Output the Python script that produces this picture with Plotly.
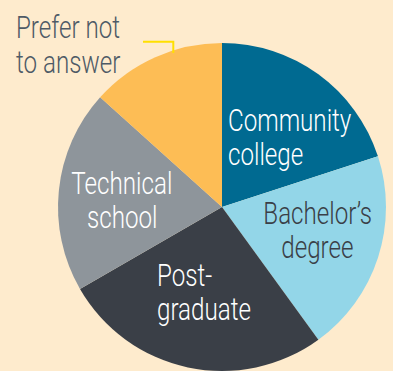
import plotly.graph_objects as go

W, H = 393, 371

categories = ["Community college", "Bachelor’s degree", "Post-graduate",
              "Technical school", "Prefer not to answer"]
values = [3, 3, 4, 3, 2]
colors = ["#006A91", "#93D6E8", "#3A3F47", "#8E959B", "#FDBD55"]

# label lines: (text, x_px, baseline_px, anchor, color)
label_lines = [
    ("Community", 227, 130.7, "left", "#FFFFFF"),
    ("college", 227, 164.7, "left", "#FFFFFF"),
    ("Bachelor’s", 317.6, 224.3, "center", "#3A3F47"),
    ("degree", 317.6, 258.3, "center", "#3A3F47"),
    ("Technical", 121.7, 194.3, "center", "#FFFFFF"),
    ("school", 121.7, 228.3, "center", "#FFFFFF"),
    ("Post-", 156, 285.7, "left", "#FFFFFF"),
    ("graduate", 156, 320, "left", "#FFFFFF"),
    ("Prefer not", 15, 38.3, "left", "#4E5A66"),
    ("to answer", 15, 73.3, "left", "#4E5A66"),
]

FONT = "Roboto, Liberation Sans, sans-serif"
FS = 31

fig = go.Figure(go.Pie(
    labels=categories, values=values,
    marker=dict(colors=colors, line=dict(width=0)),
    sort=False, direction="clockwise", rotation=0,
    textinfo="none", hoverinfo="label+percent",
    domain=dict(x=[58 / W, 386 / W], y=[0, 0.884]),
    showlegend=False,
))

annotations = []
for text, x, base, anchor, col in label_lines:
    annotations.append(dict(
        text=text, x=x / W, y=1 - (base - 10.6) / H, xref="paper", yref="paper",
        xanchor=anchor, yanchor="middle", align=anchor, showarrow=False,
        borderpad=0,
        font=dict(family=FONT, size=FS, color=col, weight=300),
    ))

fig.update_layout(
    width=W, height=H, margin=dict(l=0, r=0, t=0, b=0),
    paper_bgcolor="#FEEBCD", plot_bgcolor="#FEEBCD",
    annotations=annotations,
    shapes=[dict(type="path", xref="paper", yref="paper",
                 path=f"M {143/W},{1-41.7/H} L {173.3/W},{1-41.7/H} L {173.3/W},{1-53/H}",
                 line=dict(color="#FFE000", width=2))],
)

# condense the label text horizontally (the original uses a condensed typeface)
post_js = """
var gd = document.getElementById('{plot_id}');
gd.querySelectorAll('.annotation-text').forEach(function(t){
  var a = t.getAttribute('text-anchor');
  t.style.transformBox = 'fill-box';
  t.style.transformOrigin = (a === 'start') ? 'left center' : ((a === 'end') ? 'right center' : 'center center');
  t.style.transform = 'scaleX(0.78)';
});
"""

fig.write_html("out.html", post_script=post_js)
